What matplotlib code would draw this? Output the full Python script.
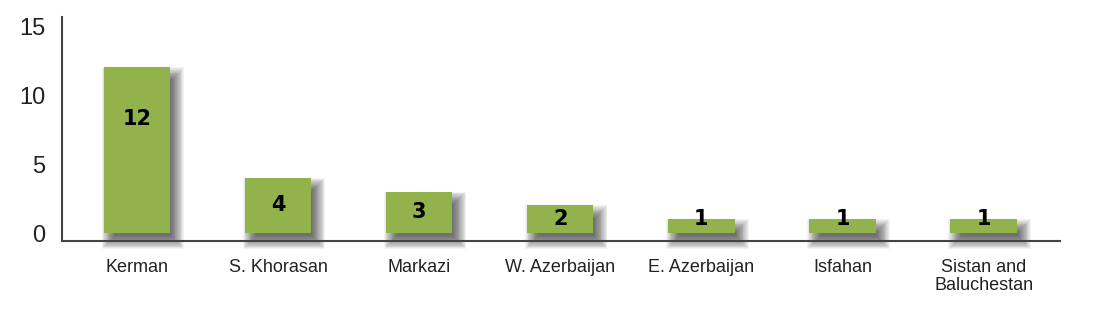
import matplotlib
matplotlib.use('Agg')
import matplotlib.pyplot as plt
from matplotlib.patches import Rectangle
import numpy as np

plt.rcParams['font.family'] = ['Liberation Sans', 'DejaVu Sans']

provinces = ['Kerman', 'S. Khorasan', 'Markazi', 'W. Azerbaijan',
             'E. Azerbaijan', 'Isfahan', 'Sistan and\nBaluchestan']
counts = [12, 4, 3, 2, 1, 1, 1]
y_ticks = [0, 5, 10, 15]

bar_color = '#92b24b'
bar_width = 0.47

fig = plt.figure(figsize=(10.96, 3.28), dpi=100)
ax = fig.add_axes([0.0566, 0.265, 0.9104, 0.683])
x = np.arange(len(provinces))
ax.set_xlim(-0.53, len(provinces) - 1 + 0.54)
ax.set_ylim(-0.58, 15.65)

# pixels per data unit, used for the soft drop shadow
px_x = ax.transData.transform((1, 0))[0] - ax.transData.transform((0, 0))[0]
px_y = ax.transData.transform((0, 1))[1] - ax.transData.transform((0, 0))[1]

sh_dx, sh_dy, blur = 6, -8, 8
for xi, v in zip(x, counts):
    for g in np.linspace(blur, -blur * 0.6, 16):
        rx = xi - bar_width / 2 + (sh_dx - g) / px_x
        ry = (sh_dy - g) / px_y
        w = bar_width + 2 * g / px_x
        h = v + 2 * g / px_y
        ax.add_patch(Rectangle((rx, ry), w, h, facecolor='#000000',
                               alpha=0.046, linewidth=0, clip_on=False, zorder=1))

ax.bar(x, counts, width=bar_width, color=bar_color, zorder=3)

for xi, v in zip(x, counts):
    ly = max(v - min(v / 2, 3.7), 1)
    ax.text(xi, ly, str(v), ha='center', va='center', fontsize=15,
            fontweight='heavy', family='DejaVu Sans', color='black', zorder=4)

ax.set_xticks(x)
ax.set_xticklabels(provinces, fontsize=13, color='#222222', linespacing=1.05)
ax.set_yticks(y_ticks)
ax.set_yticklabels([str(t) for t in y_ticks], fontsize=17, color='#222222')
ax.tick_params(axis='x', length=0, pad=13)
ax.tick_params(axis='y', length=0, pad=12)

for side in ['top', 'right']:
    ax.spines[side].set_visible(False)
for side in ['left', 'bottom']:
    ax.spines[side].set_color('#444444')
    ax.spines[side].set_linewidth(1.5)
    ax.spines[side].set_zorder(5)

fig.savefig('out.png', dpi=100)
